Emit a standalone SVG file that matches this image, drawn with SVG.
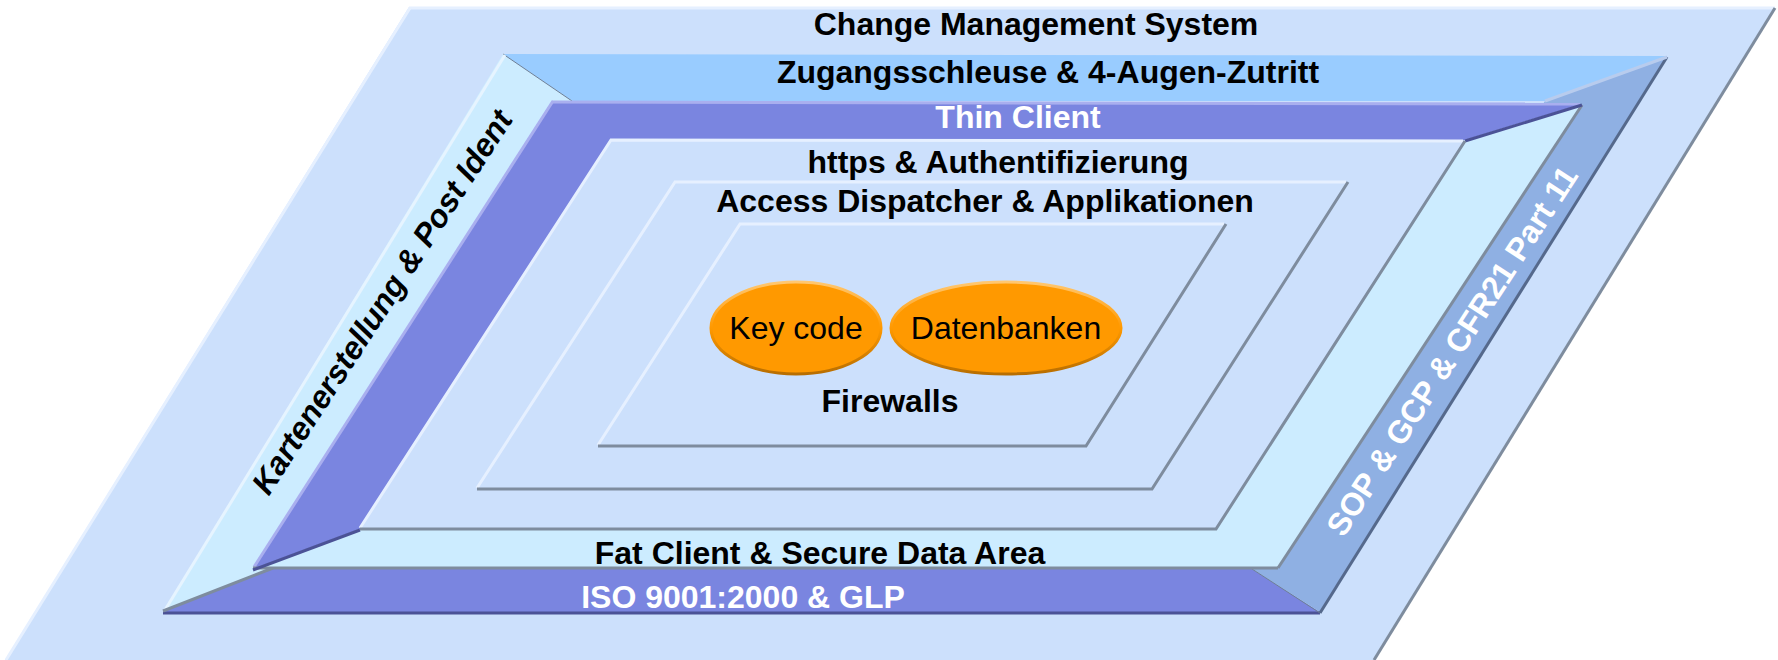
<svg xmlns="http://www.w3.org/2000/svg" width="1778" height="660" viewBox="0 0 1778 660">
<style>
.lbl{font-family:"Liberation Sans",Arial,sans-serif;font-weight:bold;font-size:32px;text-anchor:middle;fill:#000}
.wht{fill:#fff}
.ital{font-style:italic}
.reg{font-family:"Liberation Sans",Arial,sans-serif;font-size:32px;text-anchor:middle;fill:#000}
.box{fill:#CCE0FC}
.hi{stroke:#E6F0FF;stroke-width:3;fill:none}
.gr{stroke:#7E8C9E;stroke-width:3;fill:none}
.dk{stroke:#4B5296;stroke-width:3;fill:none}
.thin{stroke:#6E7F95;stroke-width:1;fill:none}
.lav{stroke:#A9AFEF;stroke-width:3;fill:none}
</style>
<defs>
<linearGradient id="og" x1="0" y1="0" x2="0" y2="1">
<stop offset="0" stop-color="#FFC770"/>
<stop offset="0.5" stop-color="#FF9900"/>
<stop offset="1" stop-color="#B86E00"/>
</linearGradient>
</defs>
<g id="change-management">
<polygon class="box" points="409,7 1775,7 1374,660 5,660"/>
<line class="hi" x1="409" y1="8" x2="1775" y2="8"/>
<line class="hi" x1="410" y1="8" x2="6" y2="660"/>
<line class="gr" x1="1775" y1="8" x2="1374" y2="660"/>
<text class="lbl" x="1036" y="35">Change Management System</text>
</g>
<g id="outer-frame">
<polygon fill="#99CCFF" points="503,54 1667,56 1545,101 572,101"/>
<polygon fill="#CCECFF" points="503,54 572,101 273,568 163,612"/>
<polygon fill="#7A85E0" points="273,568 1252,569 1320,612 163,612"/>
<polygon fill="#8FB0E3" points="1667,56 1320,612 1252,569 1545,101"/>
<line class="thin" x1="503" y1="54" x2="572" y2="101"/>
<line stroke="#E6F4FF" stroke-width="3" x1="505" y1="55" x2="165" y2="610"/>
<line class="dk" x1="163" y1="613" x2="1320" y2="613"/>
<line class="gr" x1="163" y1="611" x2="273" y2="568"/>
<line class="thin" x1="1252" y1="569" x2="1320" y2="613"/>
<line stroke="#55698C" stroke-width="3" x1="1667" y1="57" x2="1320" y2="613"/>
<line stroke="#B8CCEE" stroke-width="3" x1="1545" y1="101" x2="1667" y2="57"/>
<text class="lbl" x="1048" y="83">Zugangsschleuse &amp; 4-Augen-Zutritt</text>
<text class="lbl wht" x="743" y="608">ISO 9001:2000 &amp; GLP</text>
<text class="lbl ital" transform="translate(382,302) rotate(-57)" x="0" y="11">Kartenerstellung &amp; Post Ident</text>
<text class="lbl wht" transform="translate(1452,351) rotate(-57)" x="0" y="11">SOP &amp; GCP &amp; CFR21 Part 11</text>
</g>
<g id="client-frame">
<polygon fill="#7A85E0" points="552,101 1582,104 1465,140 611,139 360,529 253,569"/>
<polygon fill="#CCECFF" points="360,529 1216,529 1465,140 1582,104 1278,567 253,569"/>
<line class="lav" x1="552" y1="102" x2="1580" y2="104"/>
<line class="lav" x1="553" y1="101" x2="254" y2="567"/>
<line class="gr" x1="253" y1="568" x2="1278" y2="568"/>
<line class="gr" x1="1582" y1="105" x2="1278" y2="568"/>
<line class="dk" x1="253" y1="570" x2="360" y2="530"/>
<line class="dk" x1="1465" y1="141" x2="1582" y2="105"/>
<text class="lbl wht" x="1018" y="128">Thin Client</text>
<text class="lbl" x="820" y="564">Fat Client &amp; Secure Data Area</text>
</g>
<g id="https-box">
<polygon class="box" points="611,139 1465,140 1216,529 360,529"/>
<polyline class="hi" points="360,528 611,140 1463,141"/>
<polyline class="gr" points="360,529 1216,529 1465,141"/>
<text class="lbl" x="998" y="173">https &amp; Authentifizierung</text>
</g>
<g id="access-box">
<polygon class="box" points="675,181 1348,181 1152,489 477,489"/>
<polyline class="hi" points="477,488 675,182 1346,182"/>
<polyline class="gr" points="477,489 1152,489 1348,182"/>
<text class="lbl" x="985" y="212">Access Dispatcher &amp; Applikationen</text>
</g>
<g id="firewalls-box">
<polygon class="box" points="740,223 1226,223 1086,446 598,446"/>
<polyline class="hi" points="598,445 740,224 1224,224"/>
<polyline class="gr" points="598,446 1086,446 1226,224"/>
<text class="lbl" x="890" y="412">Firewalls</text>
</g>
<g id="key-code">
<ellipse cx="796" cy="328" rx="85" ry="46" fill="#FF9900" stroke="url(#og)" stroke-width="3"/>
<text class="reg" x="796" y="339">Key code</text>
</g>
<g id="datenbanken">
<ellipse cx="1006" cy="328" rx="115" ry="46" fill="#FF9900" stroke="url(#og)" stroke-width="3"/>
<text class="reg" x="1006" y="339">Datenbanken</text>
</g>
<g id="connectors"/>
</svg>
